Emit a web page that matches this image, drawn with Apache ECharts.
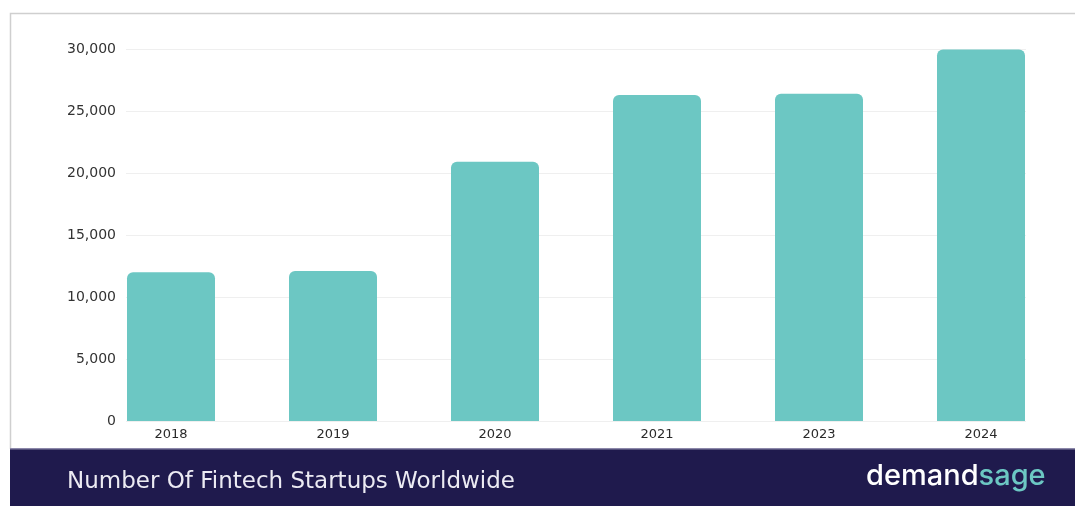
<!DOCTYPE html>
<html>
<head>
<meta charset="utf-8">
<script src="https://cdn.jsdelivr.net/npm/echarts@6/dist/echarts.min.js"></script>
<style>
html,body{margin:0;padding:0;background:#fff;}
#c{width:1075px;height:506px;}
</style>
</head>
<body>
<div id="c"></div>
<script>
const categories = ['2018', '2019', '2020', '2021', '2023', '2024'];
const startups = [12000, 12100, 20900, 26300, 26400, 29955];
const yTicks = [0, 5000, 10000, 15000, 20000, 25000, 30000];
const titleText = 'Number Of Fintech Startups Worldwide';

const chart = echarts.init(document.getElementById('c'), null, {renderer: 'canvas'});
const fmt = v => v.toLocaleString('en-US');
chart.setOption({
  animation: false,
  backgroundColor: '#ffffff',
  grid: [
    {left: 90, right: 13, top: 49, bottom: 85},
    {left: 126, right: 49, top: 49, bottom: 85}
  ],
  xAxis: [
    {
      type: 'category', data: categories, gridIndex: 0,
      axisLine: {show: false}, axisTick: {show: false},
      axisLabel: {color: '#2a2a2a', fontSize: 13, margin: 7, fontFamily: 'DejaVu Sans, sans-serif'}
    },
    {type: 'value', gridIndex: 1, show: false, min: 0, max: 1}
  ],
  yAxis: [
    {type: 'value', gridIndex: 0, min: yTicks[0], max: yTicks[yTicks.length-1], interval: 5000, show: false},
    {
      type: 'value', gridIndex: 1, min: yTicks[0], max: yTicks[yTicks.length-1], interval: 5000,
      axisLine: {show: false}, axisTick: {show: false},
      axisLabel: {color: '#333', fontSize: 14, margin: 10, formatter: fmt, fontFamily: 'DejaVu Sans, sans-serif'},
      splitLine: {lineStyle: {color: '#efefef', width: 1}}
    }
  ],
  series: [{
    type: 'bar', xAxisIndex: 0, yAxisIndex: 0,
    data: startups, barWidth: 88,
    itemStyle: {color: '#6cc7c3', borderRadius: [6, 6, 0, 0]}
  }],
  graphic: [
    {type: 'polyline', shape: {points: [[10.5, 449], [10.5, 13.5], [1075, 13.5]]}, style: {stroke: '#cfcfcf', lineWidth: 1.5, fill: null}, z: 10},
    {type: 'rect', shape: {x: 10, y: 449, width: 1065, height: 57}, style: {fill: '#1f1a4d'}, z: 10},
    {type: 'rect', shape: {x: 10, y: 448, width: 1065, height: 1.5}, style: {fill: '#8c88aa'}, z: 10},
    {type: 'text', x: 67, y: 482, style: {text: titleText, fill: '#ecebf3', fontSize: 23, verticalAlign: 'middle', fontFamily: 'DejaVu Sans, sans-serif'}, z: 11},
    {type: 'text', x: 866, y: 476, style: {
      text: '{a|demand}{b|sage}', verticalAlign: 'middle',
      rich: {
        a: {fill: '#ffffff', fontSize: 29, fontFamily: 'Inter, sans-serif', fontWeight: 500},
        b: {fill: '#6cc7c3', fontSize: 29, fontFamily: 'Inter, sans-serif', fontWeight: 500}
      }
    }, z: 11}
  ]
});
</script>
</body>
</html>
